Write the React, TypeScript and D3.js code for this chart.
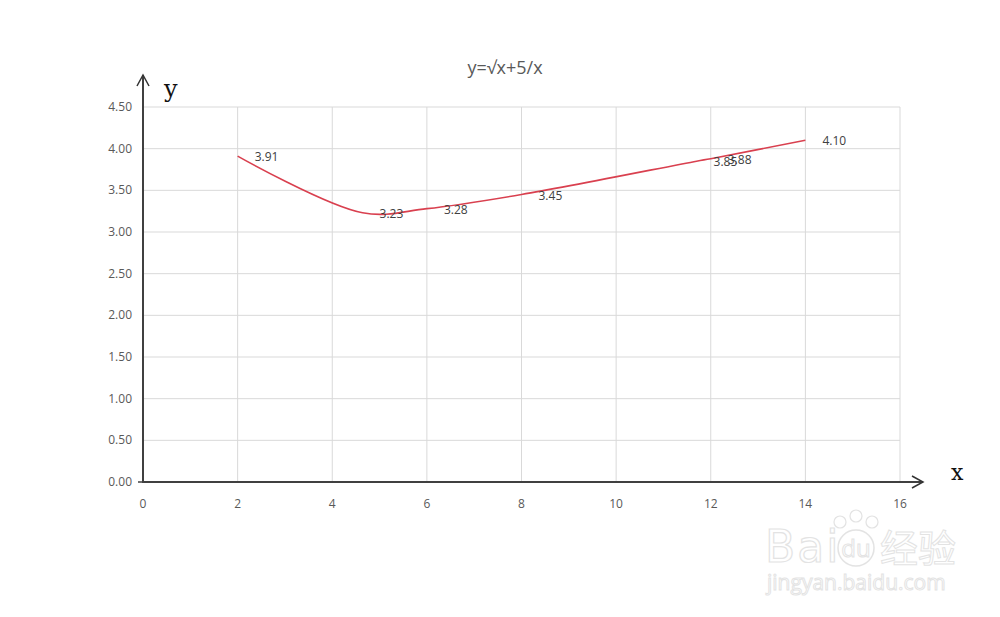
import React from "react";
import * as d3 from "d3";

const xValues = [2, 4.64, 6, 8, 11.7, 12, 14];
const yValues = [3.91, 3.23, 3.28, 3.45, 3.85, 3.88, 4.1];
const xTicks = [0, 2, 4, 6, 8, 10, 12, 14, 16];
const yTicks = [0, 0.5, 1, 1.5, 2, 2.5, 3, 3.5, 4, 4.5];
const title = "y=√x+5/x";

const W = 1000;
const H = 617;
const left = 143;
const right = 900;
const top = 107;
const bottom = 482;

export default function App() {
  const x = d3.scaleLinear().domain([0, 16]).range([left, right]);
  const y = d3.scaleLinear().domain([0, 4.5]).range([bottom, top]);
  const pts = xValues.map((v, i) => [v, yValues[i]] as [number, number]);
  const line = d3
    .line<[number, number]>()
    .x((d) => x(d[0]))
    .y((d) => y(d[1]))
    .curve(d3.curveCatmullRom.alpha(0.5));
  const font = "'Open Sans', 'DejaVu Sans', sans-serif";
  return (
    <svg
      width={W}
      height={H}
      style={{ position: "absolute", left: 0, top: 0, background: "#fff" }}
      fontFamily={font}
    >
      <rect x={0} y={0} width={W} height={H} fill="#fff" />
      {/* grid */}
      {yTicks.map((t) => (
        <line key={"gy" + t} x1={left} x2={right} y1={y(t)} y2={y(t)} stroke="#d9d9d9" strokeWidth={1} />
      ))}
      {xTicks.map((t) => (
        <line key={"gx" + t} x1={x(t)} x2={x(t)} y1={top} y2={bottom} stroke="#d9d9d9" strokeWidth={1} />
      ))}
      {/* title */}
      <text x={505} y={74} textAnchor="middle" fontSize={18} fill="#595959">
        {title}
      </text>
      {/* y tick labels */}
      {yTicks.map((t) => (
        <text key={"ly" + t} x={132} y={y(t) + 4} textAnchor="end" fontSize={12} fill="#595959">
          {t.toFixed(2)}
        </text>
      ))}
      {/* x tick labels */}
      {xTicks.map((t) => (
        <text key={"lx" + t} x={x(t)} y={508} textAnchor="middle" fontSize={12} fill="#595959">
          {t}
        </text>
      ))}
      {/* axes */}
      <line x1={138} x2={left} y1={bottom} y2={bottom} stroke="#404040" strokeWidth={1.5} />
      <line x1={left} x2={left} y1={bottom + 1} y2={75} stroke="#404040" strokeWidth={2} />
      <polyline points={`${left - 6},${86} ${left},${75} ${left + 6},${86}`} fill="none" stroke="#333" strokeWidth={1.5} />
      <line x1={left} x2={923} y1={bottom} y2={bottom} stroke="#404040" strokeWidth={2} />
      <polyline points={`${912},${476} ${923},${bottom} ${912},${488}`} fill="none" stroke="#333" strokeWidth={1.5} />
      <text x={164} y={97} fontFamily="'DejaVu Serif', 'Liberation Serif', serif" fontSize={24} fill="#111">
        y
      </text>
      <text x={951} y={480} fontFamily="'DejaVu Serif', 'Liberation Serif', serif" fontSize={22} fill="#111">
        x
      </text>
      {/* series */}
      <path d={line(pts) || ""} fill="none" stroke="#d9404f" strokeWidth={1.6} />
      {pts.map((p, i) => (
        <text key={"dl" + i} x={x(p[0]) + 17} y={y(p[1]) + 5} fontSize={12} fill="#404040">
          {p[1].toFixed(2)}
        </text>
      ))}
      {/* watermark */}
      <g opacity={0.5}>
        <text x={765} y={562} fontSize={44} fontFamily="'DejaVu Sans', sans-serif" fill="none" stroke="#c8c8c8" strokeWidth={1.2} letterSpacing={2}>
          Bai
        </text>
        <circle cx={856} cy={548} r={18} fill="none" stroke="#c8c8c8" strokeWidth={1.5} />
        <circle cx={840} cy={522} r={6} fill="none" stroke="#c8c8c8" strokeWidth={1.2} />
        <circle cx={856} cy={516} r={6} fill="none" stroke="#c8c8c8" strokeWidth={1.2} />
        <circle cx={872} cy={522} r={6} fill="none" stroke="#c8c8c8" strokeWidth={1.2} />
        <text x={856} y={557} textAnchor="middle" fontSize={24} fill="none" stroke="#c8c8c8" strokeWidth={1}>
          du
        </text>
        <text x={880} y={562} fontSize={38} fontFamily="'Noto Sans CJK SC', sans-serif" fill="none" stroke="#c8c8c8" strokeWidth={1}>
          经验
        </text>
        <text x={767} y={590} fontSize={21} fill="none" stroke="#c8c8c8" strokeWidth={1}>
          jingyan.baidu.com
        </text>
      </g>
    </svg>
  );
}
